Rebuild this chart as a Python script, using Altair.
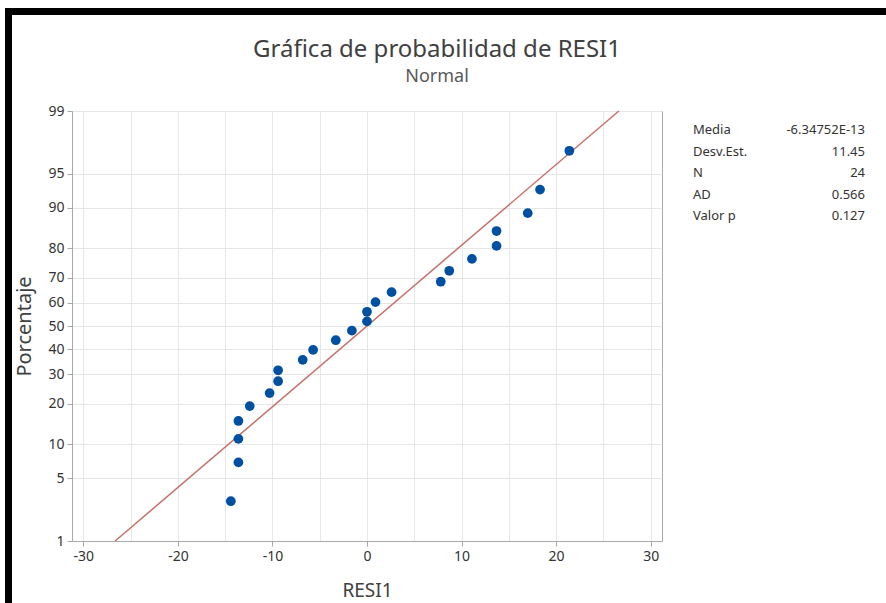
import altair as alt
import pandas as pd
from statistics import NormalDist

# ---- data ----
resid = [-14.4, -13.6, -13.6, -13.6, -12.4, -10.3, -9.4, -9.4, -6.8, -5.7, -3.3, -1.6,
         0.0, 0.0, 0.9, 2.6, 7.8, 8.7, 11.1, 13.7, 13.7, 17.0, 18.3, 21.4]
pct = [2.9, 7.0, 11.1, 15.2, 19.3, 23.4, 27.5, 31.6, 35.7, 39.8, 43.9, 48.0,
       52.0, 56.1, 60.2, 64.3, 68.4, 72.5, 76.6, 80.7, 84.8, 88.9, 93.0, 97.1]
pct_ticks = [1, 5, 10, 20, 30, 40, 50, 60, 70, 80, 90, 95, 99]
x_ticks = list(range(-30, 31, 5))
stat_labels = ["Media", "Desv.Est.", "N", "AD", "Valor p"]
stat_values = ["-6.34752E-13", "11.45", "24", "0.566", "0.127"]
mean_val = -6.34752e-13
sd_val = 11.45
line_pct = [1, 99]

nd = NormalDist()
z_ticks = [nd.inv_cdf(p / 100) for p in pct_ticks]
z_lo, z_hi = z_ticks[0], z_ticks[-1]

pts = pd.DataFrame({"RESI1": resid, "pct": pct})
pts["z"] = [nd.inv_cdf(p / 100) for p in pct]

fit = pd.DataFrame({"pct": line_pct})
fit["z"] = [nd.inv_cdf(p / 100) for p in line_pct]
fit["RESI1"] = [mean_val + sd_val * z for z in fit["z"]]

FONT = "Noto Sans"
AX = "#A8A8A8"
GRID = "#E6E6E6"

xscale = alt.Scale(domain=[-31.2, 31.2], nice=False, zero=False)
yscale = alt.Scale(domain=[z_lo, z_hi], nice=False, zero=False)

xaxis = alt.Axis(
    values=x_ticks, tickCount=30,
    labelExpr="datum.value % 10 === 0 ? toString(datum.value) : ''",
    tickOpacity={"condition": {"test": "datum.value % 10 === 0", "value": 1}, "value": 0},
    grid=True, gridColor=GRID, domainColor=AX, tickColor=AX, tickSize=5,
    labelFontSize=14, labelColor="#333333", labelFont=FONT, labelPadding=3,
    labelFlush=False, labelOverlap=False,
    title="RESI1", titleFont=FONT, titleFontSize=19, titleFontWeight="normal",
    titleColor="#404040", titlePadding=18,
)
yaxis = alt.Axis(
    values=z_ticks, tickCount=30,
    labelExpr="toString(round(cumulativeNormal(datum.value) * 100))",
    grid=True, gridColor=GRID, domainColor=AX, tickColor=AX, tickSize=5,
    labelFontSize=14, labelColor="#333333", labelFont=FONT, labelPadding=3,
    labelFlush=False, labelOverlap=False,
    title="Porcentaje", titleFont=FONT, titleFontSize=20, titleFontWeight="normal",
    titleColor="#404040", titlePadding=13,
)

line = alt.Chart(fit).mark_line(color="#C8716B", strokeWidth=1.5).encode(
    x=alt.X("RESI1:Q", scale=xscale, axis=xaxis),
    y=alt.Y("z:Q", scale=yscale, axis=yaxis),
)
points = alt.Chart(pts).mark_circle(color="#0050A2", size=95, opacity=1).encode(
    x=alt.X("RESI1:Q"),
    y=alt.Y("z:Q"),
)

labels_txt = alt.Chart(pd.DataFrame({"a": [0]})).mark_text(
    align="left", baseline="middle", font=FONT, fontSize=13, color="#333333", lineHeight=21.5
).encode(x=alt.value(621), y=alt.value(19), text=alt.value(stat_labels))
values_txt = alt.Chart(pd.DataFrame({"a": [0]})).mark_text(
    align="right", baseline="middle", font=FONT, fontSize=13, color="#333333", lineHeight=21.5
).encode(x=alt.value(793), y=alt.value(19), text=alt.value(stat_values))

# black frame seen at the top and left of the screenshot
frame_top = alt.Chart(pd.DataFrame({"a": [0]})).mark_rect(color="black").encode(
    x=alt.value(-67), x2=alt.value(820), y=alt.value(-103), y2=alt.value(-96))
frame_left = alt.Chart(pd.DataFrame({"a": [0]})).mark_rect(color="black").encode(
    x=alt.value(-67), x2=alt.value(-60), y=alt.value(-103), y2=alt.value(500))

chart = alt.layer(line, points, labels_txt, values_txt, frame_top, frame_left).properties(
    width=590, height=430,
    title=alt.TitleParams(
        "Gráfica de probabilidad de RESI1", subtitle="Normal", anchor="middle", dx=70,
        font=FONT, fontSize=24, fontWeight="normal", color="#404040",
        subtitleFont=FONT, subtitleFontSize=18, subtitleColor="#595959",
        subtitlePadding=6, offset=-78,
    ),
    autosize=alt.AutoSizeParams(type="none"),
    padding={"left": 72, "top": 111, "right": 224, "bottom": 62},
    background="white",
).configure_view(stroke=AX, strokeWidth=1)

chart.save("out.html", embed_options={"renderer": "svg", "actions": False})
